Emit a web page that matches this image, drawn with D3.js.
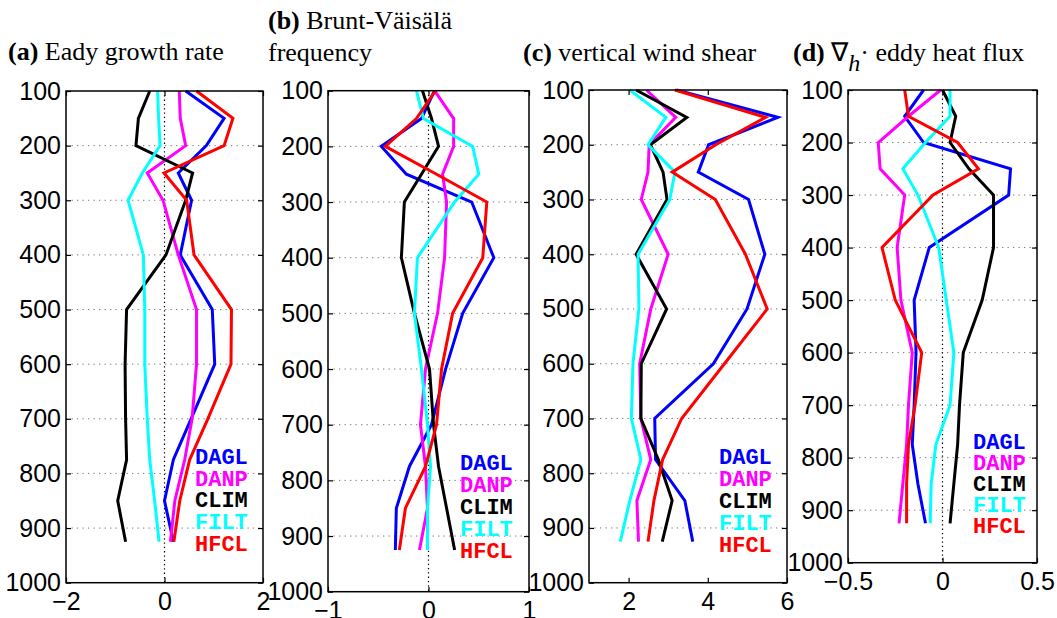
<!DOCTYPE html>
<html>
<head>
<meta charset="utf-8">
<script src="https://cdn.jsdelivr.net/npm/d3@7"></script>
<style>
  body { margin: 0; background: #fff; }
  svg { display: block; }
  .tick text { font-family: "Liberation Sans", Arial, sans-serif; font-size: 25px; fill: #000; }
  .title { font-family: "Liberation Serif", "Times New Roman", serif; font-size: 26px; }
  .legend { font-family: "Liberation Mono", "Courier New", monospace; font-size: 22px; font-weight: bold; }
</style>
</head>
<body>
<svg width="1057" height="618"></svg>
<script>
// pressure levels (hPa)
const levels = [100, 150, 200, 250, 300, 400, 500, 600, 700, 775, 850, 925];
const yTicks = [100, 200, 300, 400, 500, 600, 700, 800, 900, 1000];
const seriesNames = ["DAGL", "DANP", "CLIM", "FILT", "HFCL"];
const seriesColors = ["#0000ff", "#ff00ff", "#000000", "#00ffff", "#ff0000"];

// (a) Eady growth rate
const eadyDAGL = [0.43, 1.21, 0.85, 0.28, 0.55, 0.32, 0.97, 1.02, 0.54, 0.18, 0.00, 0.18];
const eadyDANP = [0.30, 0.32, 0.43, -0.35, -0.03, 0.28, 0.65, 0.65, 0.56, 0.41, 0.21, 0.12];
const eadyCLIM = [-0.30, -0.53, -0.58, 0.57, 0.43, 0.03, -0.77, -0.80, -0.79, -0.77, -0.95, -0.79];
const eadyFILT = [-0.14, -0.12, -0.09, -0.45, -0.74, -0.43, -0.40, -0.40, -0.35, -0.30, -0.20, -0.11];
const eadyHFCL = [0.65, 1.39, 1.21, -0.01, 0.45, 0.60, 1.36, 1.35, 0.88, 0.51, 0.31, 0.19];

// (b) Brunt-Vaisala frequency
const bvDAGL = [0.06, -0.07, -0.47, -0.22, 0.43, 0.65, 0.34, 0.17, 0.03, -0.19, -0.32, -0.33];
const bvDANP = [0.06, 0.25, 0.25, 0.14, 0.18, 0.16, 0.09, -0.03, -0.08, -0.03, -0.01, -0.09];
const bvCLIM = [-0.06, 0.03, 0.10, -0.07, -0.24, -0.27, -0.14, 0.01, 0.05, 0.10, 0.18, 0.26];
const bvFILT = [-0.12, -0.05, 0.44, 0.50, 0.26, -0.11, -0.14, -0.07, -0.01, 0.02, -0.01, -0.01];
const bvHFCL = [0.07, -0.12, -0.43, 0.08, 0.58, 0.54, 0.24, 0.13, 0.08, -0.03, -0.23, -0.29];

// (c) vertical wind shear
const shearDAGL = [3.21, 5.77, 4.02, 3.76, 5.03, 5.44, 4.99, 4.14, 2.66, 2.68, 3.42, 3.62];
const shearDANP = [2.45, 3.19, 2.52, 2.49, 2.32, 3.00, 2.56, 2.28, 2.31, 2.56, 2.21, 2.25];
const shearCLIM = [2.19, 3.47, 2.55, 2.87, 2.97, 2.19, 2.96, 2.32, 2.31, 2.75, 3.10, 2.85];
const shearFILT = [2.03, 2.94, 2.49, 3.17, 3.04, 2.24, 2.26, 2.11, 2.07, 2.31, 2.03, 1.79];
const shearHFCL = [3.17, 5.46, 4.20, 3.10, 4.19, 4.95, 5.50, 4.42, 3.34, 2.86, 2.64, 2.49];

// (d) divergence of eddy heat flux
const fluxDAGL = [-0.10, -0.20, -0.10, 0.36, 0.35, -0.07, -0.15, -0.14, -0.15, -0.16, -0.13, -0.09];
const fluxDANP = [-0.01, -0.18, -0.34, -0.33, -0.20, -0.24, -0.22, -0.16, -0.18, -0.19, -0.21, -0.23];
const fluxCLIM = [0.00, 0.07, 0.04, 0.14, 0.27, 0.27, 0.21, 0.11, 0.09, 0.08, 0.06, 0.04];
const fluxFILT = [0.04, 0.04, -0.09, -0.21, -0.13, -0.02, 0.02, 0.06, 0.04, -0.035, -0.06, -0.065];
const fluxHFCL = [-0.20, -0.18, 0.08, 0.19, -0.05, -0.32, -0.25, -0.11, -0.145, -0.18, -0.19, -0.19];

const svg = d3.select("svg");

// plain tick labels, e.g. "1000", "-2", "0.5"
const fmt = d => (d < 0 ? "\u2212" : "") + String(Math.abs(d));

// layout of each subplot
const panels = [
  { left: 66, right: 263, top: 91, bottom: 582.7, domain: [-2, 2], ticks: [-2, 0, 2], zero: true,
    series: [eadyDAGL, eadyDANP, eadyCLIM, eadyFILT, eadyHFCL], legend: [195, 464, 21.7] },
  { left: 328, right: 529, top: 90.7, bottom: 591.7, domain: [-1, 1], ticks: [-1, 0, 1], zero: true,
    series: [bvDAGL, bvDANP, bvCLIM, bvFILT, bvHFCL], legend: [460, 470, 22] },
  { left: 589, right: 787, top: 90, bottom: 582.7, domain: [1, 6], ticks: [2, 4, 6], zero: false,
    series: [shearDAGL, shearDANP, shearCLIM, shearFILT, shearHFCL], legend: [719, 463.5, 22] },
  { left: 848, right: 1037, top: 90, bottom: 562.7, domain: [-0.5, 0.5], ticks: [-0.5, 0, 0.5], zero: true,
    series: [fluxDAGL, fluxDANP, fluxCLIM, fluxFILT, fluxHFCL], legend: [973, 449, 21] }
];

const drawPanel = (p) => {
  let x = d3.scaleLinear().domain(p.domain).range([p.left, p.right]);
  let y = d3.scaleLinear().domain([100, 1000]).range([p.top, p.bottom]);
  let g = svg.append("g");

  // dotted horizontal grid
  g.selectAll(".grid")
    .data(yTicks.slice(1, -1))
    .enter()
    .append("line")
    .attr("x1", p.left).attr("x2", p.right)
    .attr("y1", d => y(d)).attr("y2", d => y(d))
    .attr("stroke", "#777")
    .attr("stroke-width", 1)
    .attr("stroke-dasharray", "1.3,4.2");

  // dotted zero line
  if (p.zero) {
    g.append("line")
      .attr("x1", x(0)).attr("x2", x(0))
      .attr("y1", p.top).attr("y2", p.bottom)
      .attr("stroke", "#000")
      .attr("stroke-width", 1.2)
      .attr("stroke-dasharray", "1.3,3");
  }

  // profiles
  let line = d3.line().x(d => x(d[0])).y(d => y(d[1]));
  p.series.forEach((vals, i) => {
    g.append("path")
      .datum(vals.map((v, k) => [v, levels[k]]))
      .attr("d", line)
      .attr("fill", "none")
      .attr("stroke", seriesColors[i])
      .attr("stroke-width", 3)
      .attr("stroke-linejoin", "miter");
  });

  // axes with inward ticks
  let yAxis = d3.axisLeft(y).tickValues(yTicks).tickFormat(fmt).tickSizeInner(-5).tickSizeOuter(0).tickPadding(5);
  let yAxisR = d3.axisRight(y).tickValues(yTicks).tickSizeInner(-5).tickSizeOuter(0).tickFormat("");
  let xAxis = d3.axisBottom(x).tickValues(p.ticks).tickFormat(fmt).tickSizeInner(-5).tickSizeOuter(0).tickPadding(10);
  let xAxisT = d3.axisTop(x).tickValues(p.ticks).tickSizeInner(-5).tickSizeOuter(0).tickFormat("");

  g.append("g").attr("transform", `translate(${p.left},0)`).call(yAxis);
  g.append("g").attr("transform", `translate(${p.right},0)`).call(yAxisR);
  g.append("g").attr("transform", `translate(0,${p.bottom})`).call(xAxis);
  g.append("g").attr("transform", `translate(0,${p.top})`).call(xAxisT);
  g.selectAll(".domain").remove();
  g.selectAll(".tick line").attr("stroke", "#000").attr("stroke-width", 1.2);

  // box
  g.append("rect")
    .attr("x", p.left).attr("y", p.top)
    .attr("width", p.right - p.left).attr("height", p.bottom - p.top)
    .attr("fill", "none")
    .attr("stroke", "#000")
    .attr("stroke-width", 1.5);

  // legend
  seriesNames.forEach((name, i) => {
    g.append("text")
      .attr("class", "legend")
      .attr("x", p.legend[0])
      .attr("y", p.legend[1] + i * p.legend[2])
      .attr("fill", seriesColors[i])
      .text(name);
  });
};

panels.forEach(drawPanel);

// titles
const addTitle = (xPos, yPos, label, rest) => {
  let t = svg.append("text").attr("class", "title").attr("x", xPos).attr("y", yPos);
  t.append("tspan").attr("font-weight", "bold").text(label);
  t.append("tspan").text(rest);
  return t;
};

addTitle(8, 60, "(a)", " Eady growth rate");
addTitle(268, 29, "(b)", " Brunt-Väisälä");
svg.append("text").attr("class", "title").attr("x", 268).attr("y", 61).text("frequency");
addTitle(523, 61, "(c)", " vertical wind shear");

let td = svg.append("text").attr("class", "title").attr("x", 793).attr("y", 61);
td.append("tspan").attr("font-weight", "bold").text("(d)");
td.append("tspan").text(" \u2207");
td.append("tspan").attr("font-style", "italic").attr("dy", 10).attr("font-size", "24px").text("h");
td.append("tspan").attr("dy", -10).text("\u00b7 eddy heat flux");
</script>
</body>
</html>
